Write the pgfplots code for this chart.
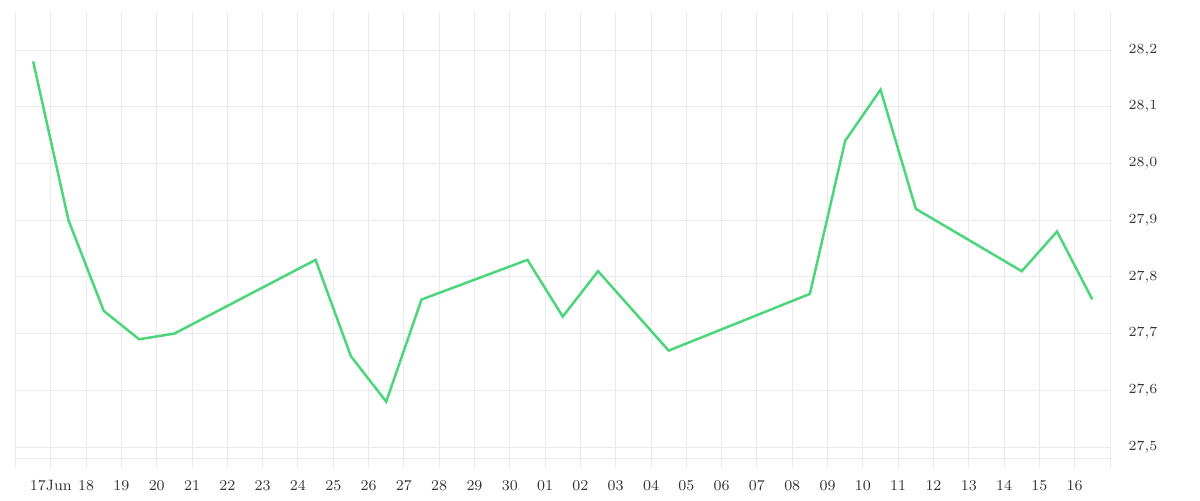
\documentclass[border=0pt]{standalone}
\usepackage{pgfplots}
\pgfplotsset{compat=1.18}
\definecolor{gridgray}{HTML}{EBEBEB}
\definecolor{linegreen}{HTML}{4CD67C}
\begin{document}
\begin{tikzpicture}
\path[use as bounding box] (-7.75pt,-16pt) rectangle (592.25pt,234pt);
\begin{axis}[
  at={(0,0)}, anchor=south west,
  scale only axis,
  width=547.25pt, height=228pt,
  xmin=0, xmax=31,
  ymin=27.463, ymax=28.267,
  axis line style={draw=none},
  major tick length=0pt,
  xtick={0,...,31},
  xticklabels={,17Jun,18,19,20,21,22,23,24,25,26,27,28,29,30,01,02,03,04,05,06,07,08,09,10,11,12,13,14,15,16,},
  ytick={27.5,27.6,27.7,27.8,27.9,28.0,28.1,28.2},
  extra y ticks={27.4806},
  extra y tick labels={},
  extra y tick style={grid=major, major grid style={gridgray, line width=0.5pt}},
  yticklabel pos=right,
  grid=major,
  major grid style={gridgray, line width=0.5pt},
  tick label style={font=\fontsize{7.5}{9}\selectfont, text=black!80},
  xticklabel style={yshift=-2.8pt},
  yticklabel style={xshift=5.8pt, /pgf/number format/.cd, use comma, fixed, fixed zerofill, precision=1},
  clip=false,
]
\addplot[linegreen, line width=1.25pt, line join=miter] coordinates {
(0.5,28.18) (1.5,27.90) (2.5,27.74) (3.5,27.69) (4.5,27.70)
(8.5,27.83) (9.5,27.66) (10.5,27.58) (11.5,27.76)
(14.5,27.83) (15.5,27.73) (16.5,27.81) (18.5,27.67)
(22.5,27.77) (23.5,28.04) (24.5,28.13) (25.5,27.92)
(28.5,27.81) (29.5,27.88) (30.5,27.76)
};
\end{axis}
\end{tikzpicture}
\end{document}
